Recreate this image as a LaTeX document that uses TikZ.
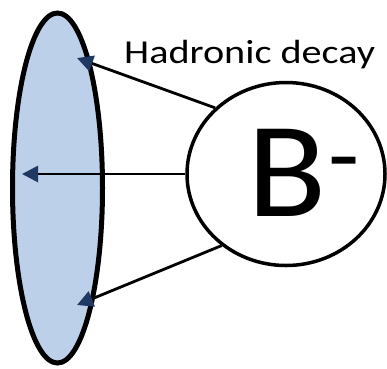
\documentclass[tikz,border=0pt]{standalone}
\usepackage{fontspec}
\setmainfont{Carlito}
\usetikzlibrary{shapes.geometric,arrows.meta}
\definecolor{detfill}{RGB}{189,208,233}
\definecolor{tipnavy}{RGB}{31,56,100}
\tikzset{
  detector/.style={ellipse,draw=black,line width=5pt,fill=detfill,minimum width=90pt,minimum height=350pt,inner sep=0pt},
  meson/.style={ellipse,draw=black,line width=3.5pt,fill=white,minimum width=198pt,minimum height=183pt,inner sep=0pt},
  track/.style={draw=black,line width=2.8pt,-{Triangle[color=tipnavy,length=16pt,width=16pt]}}
}
\begin{document}
\begin{tikzpicture}[x=1pt,y=-1pt]
\useasboundingbox (0,0) rectangle (387,368);
\node[detector] (det) at (57.5,188) {};
\node[meson] (B) at (286,174) {};
\node[font=\fontsize{136}{136}\selectfont,inner sep=0pt,anchor=base west,xscale=1.07] (Blabel) at (247,216.7) {B\kern2pt\raisebox{29pt}{\fontsize{95}{95}\selectfont -}};
\node[font=\fontsize{33.5}{33.5}\selectfont,inner sep=0pt,anchor=base west,xscale=1.2] (lab) at (124,63) {Hadronic decay};
\coordinate (t1) at (77,58);
\coordinate (t2) at (22,174);
\coordinate (t3) at (77,305);
\draw[track] (B.137.5) -- (t1);
\draw[track] (B.180) -- (t2);
\draw[track] (B.-132) -- (t3);
\end{tikzpicture}
\end{document}
